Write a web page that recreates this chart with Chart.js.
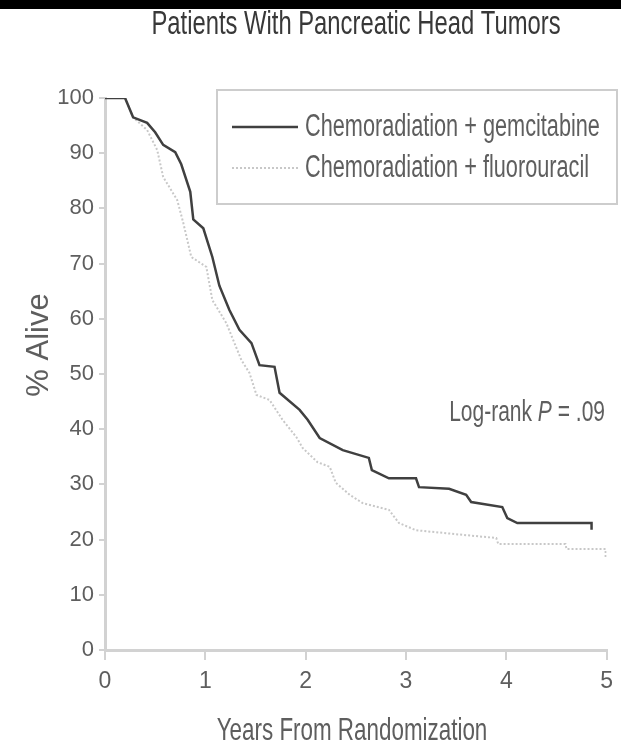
<!DOCTYPE html>
<html>
<head>
<meta charset="utf-8">
<script src="https://cdn.jsdelivr.net/npm/chart.js@4.4.1/dist/chart.umd.min.js"></script>
<style>
  html, body { margin: 0; padding: 0; background: #fff; }
  #wrap { width: 621px; height: 749px; }
</style>
</head>
<body>
<div id="wrap"><canvas id="kmChart" width="621" height="749"></canvas></div>
<script>
const chartTitle = 'Patients With Pancreatic Head Tumors';
const seriesLabels = ['Chemoradiation + gemcitabine', 'Chemoradiation + fluorouracil'];
const yTitle = '% Alive';
const xTitle = 'Years From Randomization';
const pValueParts = ['Log-rank ', 'P', ' = .09'];

// years / % alive
const gemYears = [0, 0.2, 0.28, 0.42, 0.5, 0.58, 0.7, 0.76, 0.85, 0.88, 0.98, 1.07, 1.14, 1.24, 1.34, 1.46, 1.54, 1.69, 1.74, 1.94, 2.02, 2.14, 2.37, 2.63, 2.66, 2.83, 3.1, 3.13, 3.43, 3.6, 3.65, 3.96, 4.01, 4.11, 4.85, 4.85];
const gemAlive = [100, 100, 96.5, 95.5, 93.8, 91.5, 90.2, 88, 83, 78, 76.4, 71.2, 66, 61.6, 58, 55.6, 51.6, 51.3, 46.6, 43.5, 41.7, 38.4, 36.2, 34.8, 32.6, 31.1, 31.1, 29.5, 29.2, 28.1, 26.8, 25.9, 23.9, 23, 23, 21.8];
const fuYears = [0, 0.2, 0.28, 0.42, 0.52, 0.58, 0.72, 0.78, 0.86, 1.01, 1.07, 1.21, 1.36, 1.44, 1.51, 1.64, 1.77, 1.91, 1.97, 2.12, 2.24, 2.3, 2.44, 2.57, 2.83, 2.93, 3.1, 3.6, 3.9, 3.92, 4.59, 4.6, 4.99, 4.99];
const fuAlive = [100, 100, 96.5, 94.2, 90.6, 85.7, 81.5, 77.4, 71.2, 69.4, 63.4, 59.2, 52.5, 50.2, 46.2, 45.3, 41.7, 38.5, 36.6, 34, 33.2, 30.3, 28.1, 26.6, 25.4, 23, 21.7, 20.8, 20.3, 19.2, 19.2, 18.3, 18.3, 16.5];

const FONT = "'Liberation Sans', Arial, sans-serif";
const TEXT = '#5e5e5e';
const AXIS = '#d2d2d2';
const SQUEEZE = 0.7; // the original uses a tall condensed face

const toPoints = (xs, ys) => xs.map((x, i) => ({ x: x, y: ys[i] }));

function squeezedText(ctx, text, x, y, size, align, k, style) {
  ctx.save();
  ctx.font = (style ? style + ' ' : '') + size + 'px ' + FONT;
  ctx.translate(x, y);
  ctx.scale(k, 1);
  ctx.textAlign = align;
  ctx.textBaseline = 'middle';
  ctx.fillText(text, 0, 0);
  ctx.restore();
}

const extras = {
  id: 'extras',
  afterDraw(chart) {
    const ctx = chart.ctx;
    ctx.save();

    // black strip along the top edge
    ctx.fillStyle = '#000';
    ctx.fillRect(0, 0, chart.width, 9);

    ctx.fillStyle = '#383838';
    squeezedText(ctx, chartTitle, 356, 25, 34, 'center', SQUEEZE);

    ctx.fillStyle = TEXT;
    squeezedText(ctx, xTitle, 352, 731, 32, 'center', SQUEEZE);

    // y axis title
    ctx.save();
    ctx.translate(39, 345);
    ctx.rotate(-Math.PI / 2);
    squeezedText(ctx, yTitle, 0, 0, 31, 'center', 1);
    ctx.restore();

    // legend box
    ctx.strokeStyle = '#cdcdcd';
    ctx.lineWidth = 2;
    ctx.strokeRect(217, 90, 400, 114);
    const rows = [127, 168];
    chart.data.datasets.forEach((ds, i) => {
      ctx.beginPath();
      ctx.strokeStyle = ds.borderColor;
      ctx.lineWidth = ds.borderWidth;
      ctx.setLineDash(ds.borderDash || []);
      ctx.moveTo(232, rows[i]);
      ctx.lineTo(298, rows[i]);
      ctx.stroke();
      ctx.setLineDash([]);
      ctx.fillStyle = TEXT;
      squeezedText(ctx, ds.label, 305, rows[i], 31, 'left', SQUEEZE);
    });

    // log-rank note, right aligned at 605
    const size = 30;
    ctx.font = size + 'px ' + FONT;
    const w0 = ctx.measureText(pValueParts[0]).width * SQUEEZE;
    const w2 = ctx.measureText(pValueParts[2]).width * SQUEEZE;
    ctx.font = 'italic ' + size + 'px ' + FONT;
    const w1 = ctx.measureText(pValueParts[1]).width * SQUEEZE;
    let x = 605 - (w0 + w1 + w2);
    ctx.fillStyle = TEXT;
    squeezedText(ctx, pValueParts[0], x, 413, size, 'left', SQUEEZE);
    x += w0;
    squeezedText(ctx, pValueParts[1], x, 413, size, 'left', SQUEEZE, 'italic');
    x += w1;
    squeezedText(ctx, pValueParts[2], x, 413, size, 'left', SQUEEZE);

    ctx.restore();
  }
};

new Chart(document.getElementById('kmChart'), {
  type: 'line',
  data: {
    datasets: [{
      label: seriesLabels[0],
      data: toPoints(gemYears, gemAlive),
      borderColor: '#404040',
      borderWidth: 2.5,
      pointRadius: 0,
      fill: false,
      tension: 0
    }, {
      label: seriesLabels[1],
      data: toPoints(fuYears, fuAlive),
      borderColor: '#c8c8c8',
      borderWidth: 2,
      borderDash: [2, 2],
      pointRadius: 0,
      fill: false,
      tension: 0
    }]
  },
  options: {
    responsive: false,
    animation: false,
    layout: { padding: { top: 98, right: 13, left: 0, bottom: 0 } },
    plugins: {
      legend: { display: false },
      tooltip: { enabled: false }
    },
    scales: {
      x: {
        type: 'linear',
        min: 0,
        max: 5,
        ticks: { stepSize: 1, color: TEXT, font: { family: FONT, size: 23 }, padding: 8 },
        grid: { drawOnChartArea: false, color: AXIS, lineWidth: 2, tickLength: 10 },
        border: { color: AXIS, width: 3 },
        afterFit: (scale) => { scale.height = 99; }
      },
      y: {
        min: 0,
        max: 100,
        ticks: { stepSize: 10, color: TEXT, font: { family: FONT, size: 22 }, padding: 5 },
        grid: { drawOnChartArea: false, color: AXIS, lineWidth: 2, tickLength: 6 },
        border: { color: AXIS, width: 3 },
        afterFit: (scale) => { scale.width = 105; }
      }
    }
  },
  plugins: [extras]
});
</script>
</body>
</html>
